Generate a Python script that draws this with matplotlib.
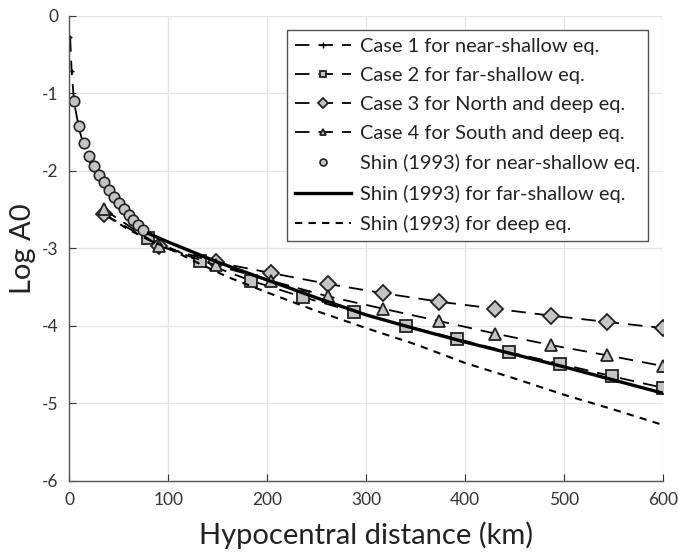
import matplotlib
matplotlib.use('Agg')
import matplotlib.pyplot as plt

# Shin (1993) near-shallow (circles)
shin_near_d = [5, 10, 15, 20, 25, 30, 35, 40, 45, 50, 55, 60, 65, 70, 75]
shin_near_a = [-1.10, -1.43, -1.65, -1.81, -1.94, -2.05, -2.15, -2.25,
               -2.34, -2.42, -2.50, -2.57, -2.64, -2.70, -2.77]

# Case 1 near-shallow
case1_d = [1, 2.5, 5, 10, 15, 20, 25, 30, 40, 50, 60, 70, 80]
case1_a = [-0.28, -0.72, -1.12, -1.46, -1.69, -1.86, -1.99, -2.10,
           -2.30, -2.47, -2.62, -2.75, -2.86]

# Case 2 far-shallow (squares)
case2_d = [80, 132, 184, 236, 288, 340, 392, 444, 496, 548, 600]
case2_a = [-2.87, -3.17, -3.42, -3.63, -3.82, -4.00, -4.17, -4.34, -4.49, -4.65, -4.80]

# Case 3 North deep (diamonds), Case 4 South deep (triangles)
case34_d = [35, 91, 148, 204, 261, 317, 374, 430, 487, 543, 600]
case3_a = [-2.56, -2.97, -3.18, -3.32, -3.46, -3.58, -3.69, -3.78, -3.87, -3.95, -4.03]
case4_a = [-2.50, -2.97, -3.22, -3.42, -3.62, -3.78, -3.94, -4.10, -4.25, -4.38, -4.52]

# Shin (1993) far-shallow (solid)
shin_far_d = [80, 100, 150, 200, 250, 300, 350, 400, 450, 500, 550, 600]
shin_far_a = [-2.81, -2.92, -3.18, -3.41, -3.64, -3.86, -4.04, -4.21, -4.37, -4.53, -4.70, -4.87]

# Shin (1993) deep (short dashes)
shin_deep_d = [40, 60, 80, 100, 130, 160, 200, 250, 300, 350, 400, 450, 500, 550, 600]
shin_deep_a = [-2.60, -2.76, -2.89, -3.00, -3.19, -3.37, -3.57, -3.81, -4.03, -4.24,
               -4.48, -4.68, -4.89, -5.08, -5.28]

plt.rcParams['font.family'] = ['Lato', 'DejaVu Sans']
plt.rcParams['axes.unicode_minus'] = False
plt.rcParams['xtick.direction'] = 'in'
plt.rcParams['ytick.direction'] = 'in'

fc = '#c4c4c4'
ec = '#222222'

fig = plt.figure(figsize=(6.78, 5.54), dpi=100)
ax = fig.add_axes([0.102, 0.132, 0.876, 0.840])

ax.plot(case1_d, case1_a, color='k', ls=(0, (8, 5)), lw=1.3, marker='+', ms=3,
        label='Case 1 for near-shallow eq.')
ax.plot(case2_d, case2_a, color='k', ls=(0, (8, 5)), lw=1.3, marker='s', ms=8,
        mfc=fc, mec=ec, mew=1.3, label='Case 2 for far-shallow eq.')
ax.plot(case34_d, case3_a, color='k', ls=(0, (8, 5)), lw=1.3, marker='D', ms=8,
        mfc=fc, mec=ec, mew=1.3, label='Case 3 for North and deep eq.')
ax.plot(case34_d, case4_a, color='k', ls=(0, (8, 5)), lw=1.3, marker='^', ms=9,
        mfc=fc, mec=ec, mew=1.3, label='Case 4 for South and deep eq.')
ax.plot(shin_near_d, shin_near_a, ls='none', marker='o', ms=7.5,
        mfc=fc, mec=ec, mew=1.2, label='Shin (1993) for near-shallow eq.')
ax.plot(shin_far_d, shin_far_a, color='k', lw=2.4, label='Shin (1993) for far-shallow eq.')
ax.plot(shin_deep_d, shin_deep_a, color='k', ls=(0, (3.5, 3)), lw=1.5,
        label='Shin (1993) for deep eq.')

ax.set_xlim(0, 600)
ax.set_ylim(-6, 0)
ax.set_xticks(range(0, 601, 100))
ax.set_yticks(range(-6, 1))
ax.grid(True, color='#e3e3e3', lw=0.9)
ax.set_axisbelow(True)
for s in ['top', 'right']:
    ax.spines[s].set_visible(False)
for s in ['left', 'bottom']:
    ax.spines[s].set_color('#555555')
    ax.spines[s].set_linewidth(1.0)
ax.tick_params(colors='#333333', labelsize=12.5, length=5, pad=8)

ax.set_xlabel('Hypocentral distance (km)', fontsize=21, color='#222222', labelpad=10)
ax.set_ylabel('Log A0', fontsize=21, color='#222222', labelpad=4)

leg = ax.legend(loc='upper right', bbox_to_anchor=(0.975, 0.968), fontsize=14.4,
                frameon=True, fancybox=False, framealpha=1, edgecolor='#555555',
                handlelength=2.8, labelspacing=0.6, borderpad=0.4, handletextpad=0.45,
                borderaxespad=0)
leg.get_frame().set_linewidth(1.0)
for t in leg.get_texts():
    t.set_color('#222222')
for h in leg.legend_handles:
    h.set_markersize(5)

plt.savefig('out.png', dpi=100)
